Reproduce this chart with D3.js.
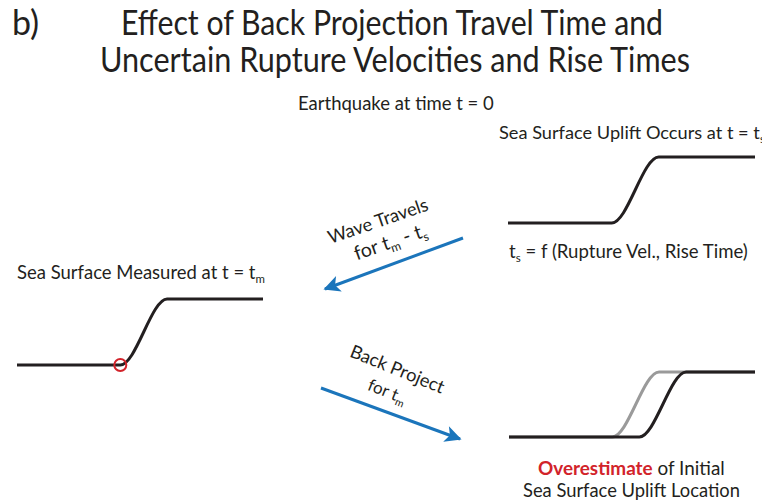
<!DOCTYPE html>
<html><head><meta charset="utf-8">
<script src="https://cdn.jsdelivr.net/npm/d3@7"></script>
<style>
body{margin:0;background:#fff}
text{font-family:Lato,"Open Sans",sans-serif;fill:#231f20}
</style>
</head><body>
<svg id="c" width="762" height="504"></svg>
<script>
// ---- data ----
const upliftDist   = [0, 42, 61, 100];   // true uplift profile (distance units)
const upliftLevel  = [0, 0, 1, 1];       // normalized sea-surface level
const backProjDist = [0, 53, 72, 100];   // back-projected profile
const backProjLevel= [0, 0, 1, 1];
const measuredDist = 42;                 // measured onset point
const measuredLevel= 0;
const titleLines = ["Effect of Back Projection Travel Time and",
                    "Uncertain Rupture Velocities and Rise Times"];
const panelLabel = "b)";

// ---- layout ----
const svg = d3.select("#c");
const ink = "#231f20", blue = "#1b75bb", red = "#d2232a", grey = "#9a9a9a";

const panels = {
  source:   {x:[508,755], y:[223,157]},
  measured: {x:[17,263],  y:[365,299]},
  result:   {x:[509,755], y:[437,372]}
};
function scales(p){
  return {x:d3.scaleLinear().domain([0,100]).range(p.x),
          y:d3.scaleLinear().domain([0,1]).range(p.y)};
}
function profile(p, dist, level, color){
  const s = scales(p);
  const line = d3.line().x(d=>s.x(d[0])).y(d=>s.y(d[1])).curve(d3.curveMonotoneX);
  svg.append("path").datum(d3.zip(dist, level))
    .attr("d", line).attr("fill","none").attr("stroke",color)
    .attr("stroke-width",3).attr("stroke-linecap","butt");
  return s;
}

// curves
profile(panels.source, upliftDist, upliftLevel, ink);
const sm = profile(panels.measured, upliftDist, upliftLevel, ink);
profile(panels.result, upliftDist, upliftLevel, grey);
profile(panels.result, backProjDist, backProjLevel, ink);
svg.append("circle").attr("cx", sm.x(measuredDist)).attr("cy", sm.y(measuredLevel))
  .attr("r",6).attr("fill","none").attr("stroke",red).attr("stroke-width",2);

// arrows
const defs = svg.append("defs");
defs.append("marker").attr("id","ah").attr("viewBox","0 0 10 10")
  .attr("refX",9).attr("refY",5).attr("markerWidth",6).attr("markerHeight",5.5)
  .attr("markerUnits","strokeWidth").attr("orient","auto")
  .append("path").attr("d","M0,0 L10,5 L0,10 L2.5,5 Z").attr("fill",blue);
function arrow(x1,y1,x2,y2){
  svg.append("line").attr("x1",x1).attr("y1",y1).attr("x2",x2).attr("y2",y2)
    .attr("stroke",blue).attr("stroke-width",3).attr("marker-end","url(#ah)");
}
arrow(463,238,325,289);
arrow(321,388,460,439);

// text helper
function txt(x,y,size,anchor,parts,parent){
  const t = (parent||svg).append("text").attr("x",x).attr("y",y)
    .attr("font-size",size).attr("text-anchor",anchor);
  let reset = false;
  parts.forEach(p=>{
    let s;
    if(typeof p === "string"){ s = t.append("tspan").text(p); }
    else if(p.sub){
      t.append("tspan").attr("font-size","0.62em").attr("dy","0.35em").text(p.sub);
      reset = true; return;
    } else {
      s = t.append("tspan").text(p.t);
      if(p.bold) s.attr("font-weight",700);
      if(p.fill) s.style("fill",p.fill);
    }
    if(reset){ s.attr("dy","-0.217em"); reset = false; }
  });
  return t;
}
function fit(t,w){
  const m = t.node().getComputedTextLength();
  t.attr("font-size", parseFloat(t.attr("font-size"))*w/m);
  return t;
}

// title
txt(12,35,34,"start",[panelLabel]);
txt(392,35,34,"middle",[titleLines[0]])
  .attr("textLength",542).attr("lengthAdjust","spacingAndGlyphs");
txt(395,72,34,"middle",[titleLines[1]])
  .attr("textLength",590).attr("lengthAdjust","spacingAndGlyphs");

fit(txt(298,110,16,"start",["Earthquake at time t = 0"]),196);
fit(txt(499,139,16,"start",["Sea Surface Uplift Occurs at t = t",{sub:"s"}]),266);
fit(txt(509,258,16,"start",["t",{sub:"s"}," = f (Rupture Vel., Rise Time)"]),239);
fit(txt(17,279,16,"start",["Sea Surface Measured at t = t",{sub:"m"}]),248);
fit(txt(538,475,16,"start",[{t:"Overestimate",bold:true,fill:red}," of Initial"]),187);
fit(txt(523,497,16,"start",["Sea Surface Uplift Location"]),217);

// rotated arrow labels
const g1 = svg.append("g").attr("transform","translate(380,227) rotate(-19)");
fit(txt(0,0,16,"middle",["Wave Travels"],g1),105);
fit(txt(5,24,16,"middle",["for  t",{sub:"m"}," - t",{sub:"s"}],g1),76);
const g2 = svg.append("g").attr("transform","translate(395,375) rotate(22)");
fit(txt(0,0,16,"middle",["Back Project"],g2),100);
fit(txt(-1,24,16,"middle",["for t",{sub:"m"}],g2),40);
</script>
</body></html>
